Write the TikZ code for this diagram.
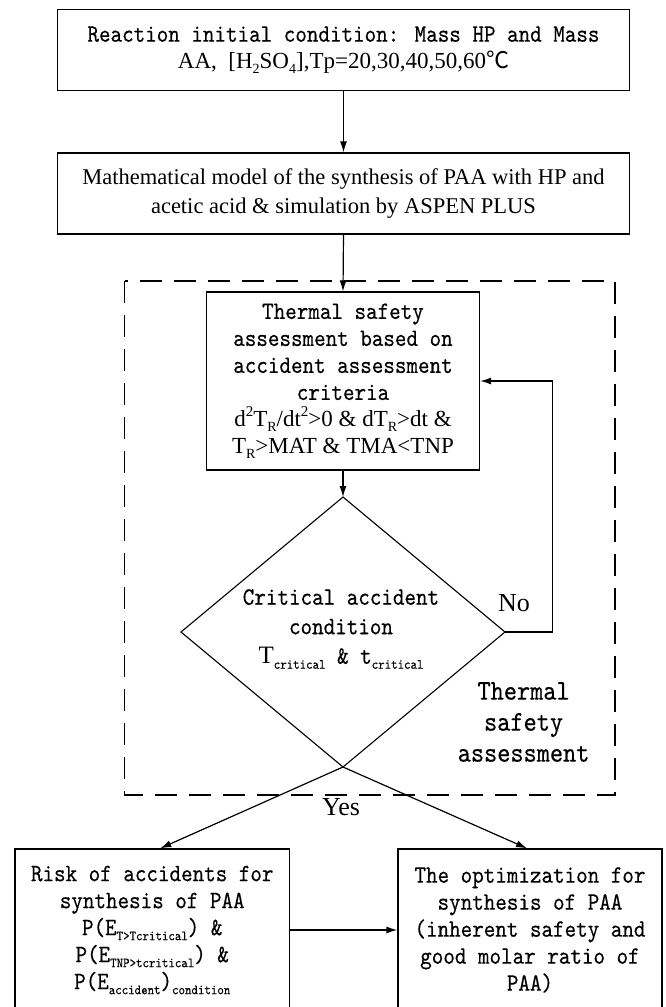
\documentclass[tikz,border=0pt]{standalone}
\usepackage{fontspec}
\setmainfont{Liberation Serif}
\newfontfamily\monof{lmmono10-regular.otf}[FakeStretch=0.88,FakeBold=0.35]
\newfontfamily\cjkf{Noto Sans CJK SC}
\usetikzlibrary{arrows.meta}
\newcommand\subx[1]{\raisebox{-0.2em}{\fontsize{14}{14}\selectfont #1}}
\newcommand\supx[1]{\raisebox{0.45em}{\fontsize{15}{15}\selectfont #1}}
\tikzset{
  box/.style={draw, line width=1.3pt, inner sep=0pt, align=center},
  monotext/.style={font=\monof\fontsize{25}{27}\selectfont},
  arr/.style={-{Latex[length=11pt,width=7pt]}, line width=1.2pt},
  dashbox/.style={line width=1.4pt, dash pattern=on 22pt off 12pt},
  lbl/.style={inner sep=0pt, font=\fontsize{26}{28}\selectfont}
}
\begin{document}
\begin{tikzpicture}[x=1pt,y=-1pt]
\useasboundingbox (0,0) rectangle (666,1007);
\clip (0,0) rectangle (666,1007);
% top boxes
\node[box, monotext, minimum width=572pt, minimum height=81pt] (b1) at (343.5,50)
  {Reaction initial condition: Mass HP and Mass\\
   {\rmfamily\fontsize{23}{27}\selectfont AA,\ \ [H\subx{2}SO\subx{4}],Tp=20,30,40,50,60{\cjkf ℃}}};
\node[box, font=\fontsize{22.5}{29}\selectfont, minimum width=572pt, minimum height=81pt] (b2) at (343.5,193.5)
  {Mathematical model of the synthesis of PAA with HP and\\acetic acid \& simulation by ASPEN PLUS};
% dashed frame
\draw[dashbox] (124.5,281) rectangle (615,795);
% box 3
\node[box, monotext, minimum width=273pt, minimum height=178pt] (b3) at (343,381)
  {Thermal safety\\assessment based on\\accident assessment\\criteria\\
   {\rmfamily\fontsize{23}{27}\selectfont d\supx{2}T\subx{R}/dt\supx{2}>0 \& dT\subx{R}>dt \&}\\
   {\rmfamily\fontsize{23}{27}\selectfont T\subx{R}>MAT \& TMA<TNP}};
% diamond
\coordinate (dt) at (343,497);
\coordinate (dl) at (181,632);
\coordinate (dr) at (505,632);
\coordinate (db) at (343,767);
\draw[line width=1.1pt] (dt) -- (dr) -- (db) -- (dl) -- cycle;
\node[align=center, inner sep=0pt, font=\monof\fontsize{25}{29.5}\selectfont] (dtext) at (341,629)
  {Critical accident\\condition\\{\rmfamily T}\subx{critical} \& t\subx{critical}};
% feedback
\coordinate (fb) at (552.5,632);
\draw[arr] (dr) -- (fb) |- (b3.east);
\node[lbl] (no) at (514,603) {No};
% label
\node[align=center, inner sep=0pt, font=\monof\fontsize{28.5}{31}\selectfont] (tsa) at (523.6,722)
  {Thermal\\safety\\assessment};
% bottom boxes
\node[box, monotext, minimum width=274.5pt, minimum height=162pt] (lb) at (152.25,930)
  {Risk of accidents for\\synthesis of PAA\\
   P(E\subx{T>Tcritical}) \&\\
   P(E\subx{TNP>tcritical}) \&\\
   P(E\subx{accident})\subx{condition}};
\node[box, monotext, minimum width=264pt, minimum height=162pt] (rb) at (530,930)
  {The optimization for\\synthesis of PAA\\(inherent safety and\\good molar ratio of\\PAA)};
\node[lbl] (yes) at (341,807) {Yes};
% connectors
\draw[arr] (b1.south) -- (b2.north);
\draw[arr] (b2.south) -- (b3.north);
\draw[arr] (b3.south) -- (dt);
\draw[arr] (db) -- ([xshift=8pt]lb.north);
\draw[arr] (db) -- ([xshift=-3pt]rb.north);
\draw[arr] (lb.east) -- (rb.west);
\end{tikzpicture}
\end{document}
